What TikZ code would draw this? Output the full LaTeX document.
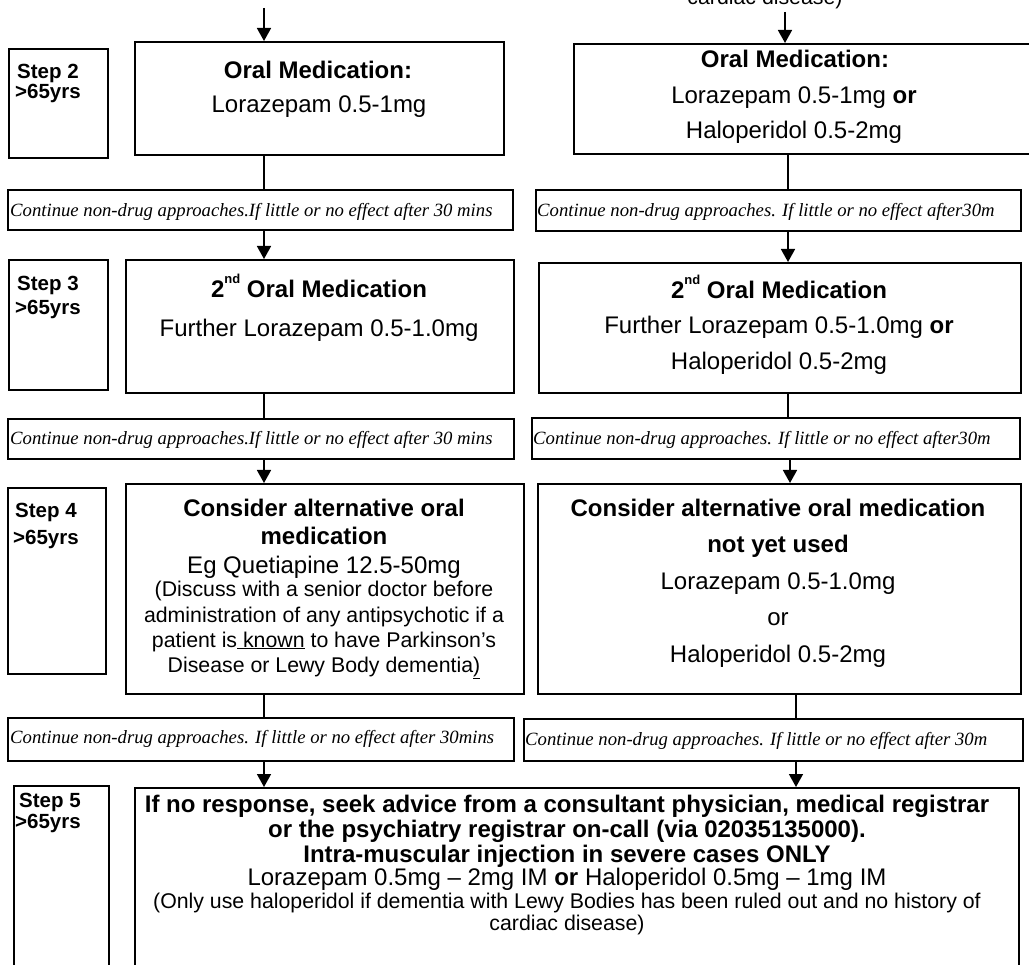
\documentclass[tikz,border=0pt]{standalone}
\usepackage{fontspec}
\setmainfont{Liberation Sans}
\newfontfamily\serifit{Liberation Serif}
\usetikzlibrary{arrows.meta}

% raised ordinal suffix, set small and high as in the printed sheet
\newcommand\ordsup[1]{\raisebox{0.62em}{\fontsize{13}{13}\selectfont #1}}

\begin{document}
\begin{tikzpicture}[x=1pt,y=-1pt,
  box/.style={draw,line width=1.8pt,inner sep=0pt,anchor=north west},
  link/.style={line width=1.6pt},
  flow/.style={line width=1.6pt,-{Triangle[width=14pt,length=13pt]}},
  main/.style={font=\fontsize{24}{28}\selectfont,anchor=base,inner sep=0pt},
  head/.style={font=\fontsize{24}{28}\selectfont\bfseries,anchor=base,inner sep=0pt},
  small/.style={font=\fontsize{21.3}{25}\selectfont,anchor=base,inner sep=0pt},
  steplbl/.style={font=\fontsize{20.5}{24}\selectfont\bfseries,anchor=base west,inner sep=0pt},
  note/.style={font=\fontsize{18.7}{22}\selectfont\serifit\itshape,anchor=base west,inner sep=0pt},
]
\useasboundingbox (0,0) rectangle (1029,965);

% tail of the previous section's text
\node[small] (prevtail) at (765,5) {cardiac disease)};

% step labels
\node[box,minimum width=99pt,minimum height=109pt] (step2) at (8,48) {};
\node[box,minimum width=99pt,minimum height=130pt] (step3) at (8,259) {};
\node[box,minimum width=98pt,minimum height=186pt] (step4) at (7,487) {};
\node[box,minimum width=95pt,minimum height=220pt] (step5) at (13,785) {};
\node[steplbl] (s2a) at (17,79) {Step 2};
\node[steplbl] (s2b) at (15,99) {>65yrs};
\node[steplbl] (s3a) at (17,291) {Step 3};
\node[steplbl] (s3b) at (15,315) {>65yrs};
\node[steplbl] (s4a) at (15,518) {Step 4};
\node[steplbl] (s4b) at (13,544) {>65yrs};
\node[steplbl] (s5a) at (19,807) {Step 5};
\node[steplbl] (s5b) at (15,828) {>65yrs};

% medication boxes
\node[box,minimum width=369pt,minimum height=113pt] (oralL) at (134,41) {};
\node[box,minimum width=480pt,minimum height=110pt] (oralR) at (573,43) {};
\node[box,minimum width=388pt,minimum height=133pt] (med3L) at (125,259) {};
\node[box,minimum width=482pt,minimum height=130pt] (med3R) at (538,262) {};
\node[box,minimum width=398pt,minimum height=210pt] (med4L) at (125,483) {};
\node[box,minimum width=483pt,minimum height=210pt] (med4R) at (537,483) {};
\node[box,minimum width=884pt,minimum height=220pt] (med5) at (134,787) {};

% "continue" boxes
\node[box,minimum width=505pt,minimum height=40pt] (cont2L) at (7,189) {};
\node[box,minimum width=485pt,minimum height=41pt] (cont2R) at (535,189) {};
\node[box,minimum width=506pt,minimum height=40pt] (cont3L) at (7,418) {};
\node[box,minimum width=488pt,minimum height=41pt] (cont3R) at (531,417) {};
\node[box,minimum width=506pt,minimum height=43pt] (cont4L) at (7,717) {};
\node[box,minimum width=499pt,minimum height=42pt] (cont4R) at (523,718) {};

\node[note] (c2L) at (10,217) {Continue non-drug approaches.If little or no effect after 30 mins};
\node[note] (c2R) at (537,217) {Continue non-drug approaches. If little or no effect after30m};
\node[note] (c3L) at (10,445) {Continue non-drug approaches.If little or no effect after 30 mins};
\node[note] (c3R) at (533,445) {Continue non-drug approaches. If little or no effect after30m};
\node[note] (c4L) at (10,743) {Continue non-drug approaches. If little or no effect after 30mins};
\node[note] (c4R) at (525,745) {Continue non-drug approaches. If little or no effect after 30m};

% step 2 texts
\node[head] (o2La) at (318,79) {Oral Medication:};
\node[main] (o2Lb) at (319,113) {Lorazepam 0.5-1mg};
\node[head] (o2Ra) at (795,68) {Oral Medication:};
\node[main] (o2Rb) at (794,104) {Lorazepam 0.5-1mg \textbf{or}};
\node[main] (o2Rc) at (794,139) {Haloperidol 0.5-2mg};

% step 3 texts
\node[head] (m3La) at (319,298) {2\ordsup{nd}\ Oral Medication};
\node[main] (m3Lb) at (319,337) {Further Lorazepam 0.5-1.0mg};
\node[head] (m3Ra) at (779,299) {2\ordsup{nd}\ Oral Medication};
\node[main] (m3Rb) at (779,334) {Further Lorazepam 0.5-1.0mg \textbf{or}};
\node[main] (m3Rc) at (779,370) {Haloperidol 0.5-2mg};

% step 4 texts
\node[head] (m4La) at (324,517) {Consider alternative oral};
\node[head] (m4Lb) at (324,545) {medication};
\node[main] (m4Lc) at (324,573) {Eg Quetiapine 12.5-50mg};
\node[small] (m4Ld) at (324,597) {(Discuss with a senior doctor before};
\node[small] (m4Le) at (324,622) {administration of any antipsychotic if a};
\node[small] (m4Lf) at (324,647) {patient is\underline{\ known} to have Parkinson’s};
\node[small] (m4Lg) at (324,672) {Disease or Lewy Body dementia\underline{)}};
\node[head] (m4Ra) at (778,517) {Consider alternative oral medication};
\node[head] (m4Rb) at (778,553) {not yet used};
\node[main] (m4Rc) at (778,589) {Lorazepam 0.5-1.0mg};
\node[main] (m4Rd) at (778,625) {or};
\node[main] (m4Re) at (778,662) {Haloperidol 0.5-2mg};

% step 5 texts
\node[head] (m5a) at (567,812) {If no response, seek advice from a consultant physician, medical registrar};
\node[head] (m5b) at (567,837) {or the psychiatry registrar on-call (via 02035135000).};
\node[head] (m5c) at (567,862) {Intra-muscular injection in severe cases ONLY};
\node[main] (m5d) at (567,885) {Lorazepam 0.5mg – 2mg IM \textbf{or} Haloperidol 0.5mg – 1mg IM};
\node[small] (m5e) at (567,908) {(Only use haloperidol if dementia with Lewy Bodies has been ruled out and no history of};
\node[small] (m5f) at (567,930) {cardiac disease)};

% connector guides
\coordinate (inL) at (264,8);
\coordinate (inR) at (785,12);
\coordinate (xa) at (264,0);
\coordinate (xb) at (788,0);
\coordinate (xc) at (790,0);
\coordinate (xd) at (796,0);

\draw[flow] (inL) -- (inL |- oralL.north);
\draw[flow] (inR) -- (inR |- oralR.north);

\draw[link] (oralL.south -| xa) -- (cont2L.north -| xa);
\draw[flow] (cont2L.south -| xa) -- (med3L.north -| xa);
\draw[link] (med3L.south -| xa) -- (cont3L.north -| xa);
\draw[flow] (cont3L.south -| xa) -- (med4L.north -| xa);
\draw[link] (med4L.south -| xa) -- (cont4L.north -| xa);
\draw[flow] (cont4L.south -| xa) -- (med5.north -| xa);

\draw[link] (oralR.south -| xb) -- (cont2R.north -| xb);
\draw[flow] (cont2R.south -| xb) -- (med3R.north -| xb);
\draw[link] (med3R.south -| xb) -- (cont3R.north -| xb);
\draw[flow] (cont3R.south -| xc) -- (med4R.north -| xc);
\draw[link] (med4R.south -| xd) -- (cont4R.north -| xd);
\draw[flow] (cont4R.south -| xd) -- (med5.north -| xd);
\end{tikzpicture}
\end{document}
